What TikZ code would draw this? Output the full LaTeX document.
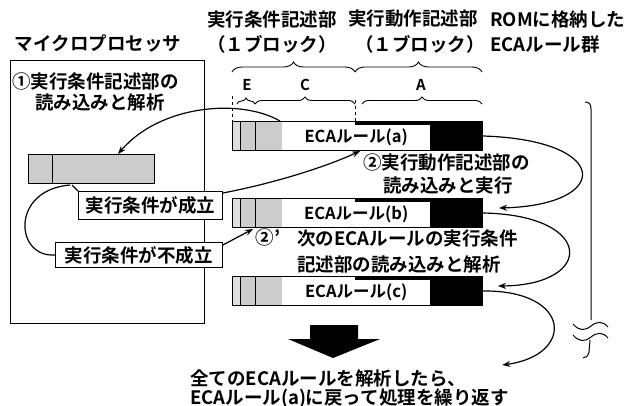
\documentclass[tikz,border=0pt]{standalone}
\usepackage{fontspec}
\setmainfont{Noto Sans CJK JP}[BoldFont={* Bold}]
\usetikzlibrary{decorations.pathreplacing,arrows.meta,calc}
\newcommand\bigjp{\bfseries\fontsize{18.5}{21}\selectfont}
\newcommand\lblfont{\bfseries\fontsize{16.5}{19}\selectfont}
\tikzset{
  txt/.style={font=\bigjp, inner sep=0pt},
  lbl/.style={draw, fill=white, line width=0.9pt, inner sep=0pt, font=\bigjp},
  conn/.style={line width=1.2pt},
  arr/.style={conn, -{Stealth[length=8pt,width=6pt]}},
  brc/.style={decorate, decoration={brace, amplitude=#1}, line width=0.9pt},
  brc/.default=8pt,
  barbox/.style={draw, line width=1pt, minimum width=250pt, minimum height=29pt, anchor=north west, inner sep=0pt},
}
\newcommand\ecabar[3]{%
  \fill[gray!40] (232,#2) rectangle (282,#2+29);
  \fill[gray!25] (232,#2) rectangle (240,#2+29);
  \fill[black] (355,#2) rectangle (482,#2+29);
  \node[fill=white, minimum width=148pt, minimum height=25pt, anchor=south west, inner sep=0pt, font=\lblfont] (#1lab) at (282,#2+29) {ECAルール(#3)};
  \draw[line width=0.8pt] (240,#2) -- (240,#2+29) (255,#2) -- (255,#2+29);
  \node[barbox] (#1) at (232,#2) {};
}
\begin{document}
\begin{tikzpicture}[x=1pt,y=-1pt]
\useasboundingbox (0,0) rectangle (636,405);
% headers
\node[txt] (hmp) at (98,43) {マイクロプロセッサ};
\node[txt] (hc1) at (272,19) {実行条件記述部};
\node[txt] (hc2) at (272,44) {（１ブロック）};
\node[txt] (ha1) at (413,19) {実行動作記述部};
\node[txt] (ha2) at (420,44) {（１ブロック）};
\node[txt, anchor=west] (hr1) at (490,19) {ROMに格納した};
\node[txt, anchor=west] (hr2) at (490,44) {ECAルール群};
% microprocessor box
\node[draw, line width=1.2pt, minimum width=194pt, minimum height=263pt, anchor=north west, inner sep=0pt] (mp) at (10,60) {};
\node[txt, anchor=west] (m1) at (12,81) {①実行条件記述部の};
\node[txt, anchor=west] (m2) at (35,102) {読み込みと解析};
\fill[gray!40] (28,154) rectangle (154,183);
\draw[line width=0.8pt] (52,154) -- (52,183);
\node[draw, line width=1pt, minimum width=126pt, minimum height=29pt, anchor=north west, inner sep=0pt] (mpbar) at (28,154) {};
% braces
\draw[brc=10pt] (232,72) -- (355,72);
\draw[brc=10pt] (355,72) -- (482,72);
\node[font=\bfseries\fontsize{15}{17}\selectfont, inner sep=0pt] (lE) at (247,85) {E};
\node[font=\bfseries\fontsize{15}{17}\selectfont, inner sep=0pt] (lC) at (305,85) {C};
\node[font=\bfseries\fontsize{15}{17}\selectfont, inner sep=0pt] (lA) at (421,85) {A};
\draw[brc=6pt] (237,104) -- (255,104);
\draw[brc=7pt] (255,104) -- (355,104);
\draw[brc=7pt] (362,104) -- (482,104);
\draw[dashed, line width=0.8pt] (232,96) -- (232,121);
\draw[dashed, line width=0.8pt] (355,100) -- (355,121);
% rule bars
\ecabar{barA}{121}{a}
\ecabar{barB}{198}{b}
\ecabar{barC}{276}{c}
% condition labels
\node[lbl, minimum width=144pt, minimum height=28pt, anchor=north west] (ok) at (78,191) {実行条件が成立};
\node[lbl, minimum width=167pt, minimum height=25pt, anchor=north west] (ng) at (55,242) {実行条件が不成立};
% texts
\node[txt, anchor=west] (t2a) at (363,163) {②実行動作記述部の};
\node[txt, anchor=west] (t2b) at (383,185) {読み込みと実行};
\node[txt] (t2p) at (268,237) {②’};
\node[txt, anchor=west] (t3a) at (297,238) {次のECAルールの実行条件};
\node[txt, anchor=west] (t3b) at (297,264) {記述部の読み込みと解析};
\node[txt, anchor=west] (tb1) at (190,378) {全てのECAルールを解析したら、};
\node[txt, anchor=west] (tb2) at (190,398) {ECAルール(a)に戻って処理を繰り返す};
% connectors
\draw[arr] ($(barA.north west)+(48,0)$) .. controls (240,98) and (160,105) .. ($(mpbar.north west)+(90,0)$);
\draw[conn] ($(mpbar.south west)+(44,1)$) -- (ok.north west);
\draw[conn] ($(mpbar.south west)+(42,1)$) .. controls (10,190) and (15,258) .. (ng.west);
\draw[arr] ($(ok.north east)+(0,2)$) .. controls (280,182) and (330,165) .. ($(barA.south west)+(128,0)$);
\draw[arr] ($(ng.north east)+(0,3)$) -- ($(barB.south west)+(21,1)$);
\draw[arr] (barA.east) .. controls (612,140) and (612,205) .. ($(barB.east)+(16,-5)$);
\draw[arr] (barB.east) .. controls (595,215) and (595,285) .. ($(barC.east)+(15,-5)$);
\draw[arr] (barC.east) .. controls (572,290) and (575,355) .. ($(tb1.east)+(36,-13)$);
% ROM bracket with break
\draw[line width=1pt] (585,102) .. controls (589,102) and (591,104) .. (591,109) -- (591,320);
\draw[line width=1pt] (573,324) .. controls (579,331) and (585,331) .. (591,326) .. controls (597,321) and (603,321) .. (608,327);
\draw[line width=1pt] (573,335) .. controls (579,342) and (585,342) .. (591,337) .. controls (597,332) and (603,332) .. (608,338);
\draw[line width=1pt] (590,340) -- (589,352) .. controls (588,356) and (586,358) .. (583,358);
% big down arrow
\fill[black] (310,325) -- (358,325) -- (358,339) -- (380,339) -- (333,358) -- (288,339) -- (310,339) -- cycle;
\end{tikzpicture}
\end{document}
